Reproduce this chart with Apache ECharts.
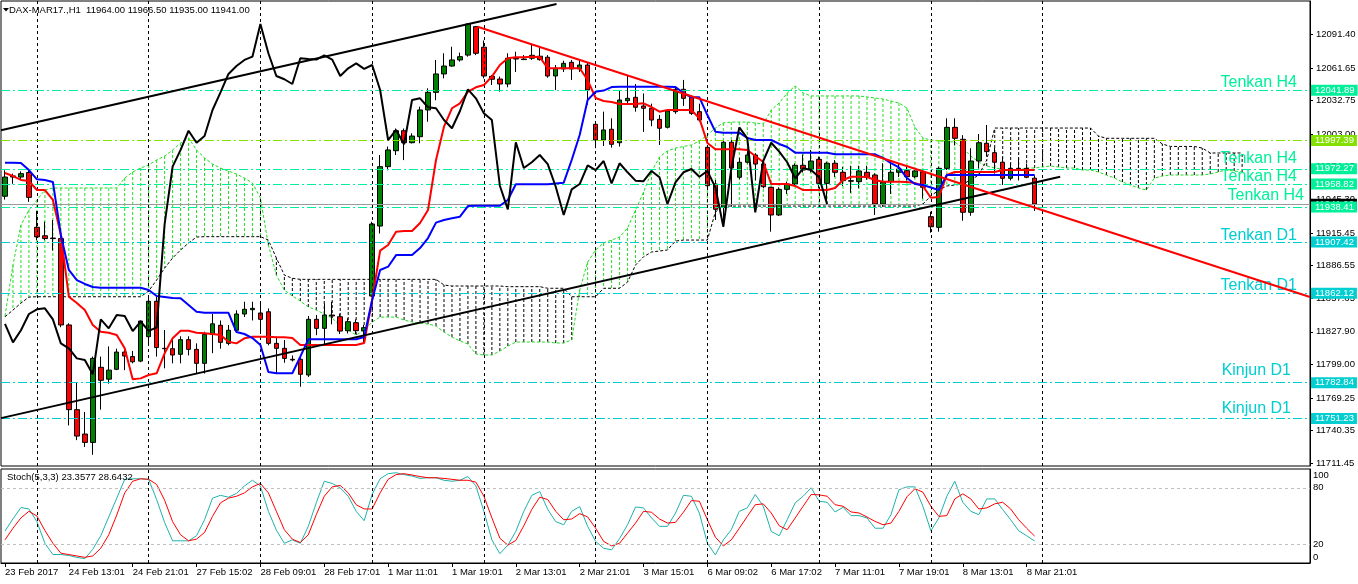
<!DOCTYPE html>
<html><head><meta charset="utf-8">
<script src="https://cdn.jsdelivr.net/npm/echarts@6/dist/echarts.min.js"></script>
<style>html,body{margin:0;padding:0;background:#fff}#c{width:1358px;height:584px}</style>
</head><body><div id="c"></div>
<script>
const symbolName = 'DAX-MAR17.,H1';
const tickLabels = ['23 Feb 2017','24 Feb 13:01','24 Feb 21:01','27 Feb 15:02','28 Feb 09:01','28 Feb 17:01','1 Mar 11:01','1 Mar 19:01','2 Mar 13:01','2 Mar 21:01','3 Mar 15:01','6 Mar 09:02','6 Mar 17:02','7 Mar 11:01','7 Mar 19:01','8 Mar 13:01','8 Mar 21:01'];
const priceTicks = [12091.40,12061.65,12032.75,12003.00,11974.15,11945.30,11915.45,11886.55,11857.65,11827.90,11799.00,11769.25,11740.35,11711.45];
const stochTicks = [100,80,20,0];
const separatorBars = [4,18,32,46,60,74,88,102,116,130];

const opens = [11948,11965,11965,11969,11920.5,11913,11911,11910.5,11834,11759,
11737.4,11730,11796.5,11786,11794.7,11810,11806,11802,11823.6,11855,
11813.3,11813,11808,11821,11812.4,11800,11825.7,11833.7,11817.7,11829.3,
11843.7,11847.5,11844.6,11845.7,11817.7,11813.3,11803.6,11803.6,11789.7,11839,
11831,11842.8,11841.3,11828.9,11836,11828.9,11859.6,11921.6,11974.2,11988.3,
12006,11995.4,12000.7,12024.4,12040,12056.3,12063.3,12068.7,12073,12098.2,
12080,12054.2,12051.8,12047.4,12070.2,12069.5,12070.2,12072,12071.1,12054.5,
12060.8,12066.6,12060.8,12064.2,12011.7,11997.8,12007.3,11995.4,12032.6,12035.6,
12027.9,12025.9,12016.1,12009.1,12022.9,12042.7,12035.6,12022.9,11991.3,11958.8,
11938.2,11995.8,11964.8,11978.1,11984.5,11976.5,11955.9,11931.4,11954.1,11958.8,
11975.4,11971.8,11980.7,11959.4,11977.2,11969.2,11961.8,11960.9,11969.2,11966.8,
11941.1,11960.9,11969.2,11970.6,11965.3,11969.7,11929.9,11920.5,11972.7,12009,
11998.4,11933.8,11979.2,11994.9,11986.6,11978.1,11963.9,11972.7,11972.7,11964];
const highs = [11971,11968,11970,11971,11935,11925.5,11927,11914,11835.5,11783,
11757,11806,11806,11815,11813,11813,11811,11838,11859,11859,
11829.5,11820.7,11824,11824,11817.7,11828,11844,11838,11834,11847,
11854.6,11854.6,11853,11848.7,11823.6,11820.7,11807,11807.4,11842,11842.8,
11853,11854.6,11844,11840,11839,11834,11925.4,11984.5,11992,12008,
12008,12003.7,12027.3,12043.6,12068.7,12074.6,12080.4,12075.2,12101.2,12098.8,
12086,12055.4,12054,12074.6,12076,12073,12082,12080,12073,12064.2,
12068,12068.7,12068.7,12066,12014,12022.9,12017,12042,12055.4,12047.4,
12039,12030,12020,12025,12045.5,12051,12037,12030,11992,11962.4,
11997.8,11997.8,11982,11990,11986,11980,11956.4,11956,11961,11977,
11985,11989,11983,11978.6,11980,11974,11975,11975,11975,11968.3,
11977.2,11977,11977,11974,11971,11971,11934.3,11974.2,12017,12017,
12002.1,11990.5,12003.1,12011.1,11991,11983,11977,11982,11977,11966.5];
const lows = [11945,11959,11963,11943,11909,11909,11900,11832,11745,11732,
11726,11719,11759,11782,11794,11794,11800,11801,11816,11806,
11795.6,11800,11800,11807,11791,11791,11809,11813,11816,11827,
11841,11838,11826.6,11816,11791,11800.5,11801.7,11779.3,11788,11825,
11816,11834.6,11826,11826.5,11826,11818,11859,11915,11971,11984.5,
11980,11994.8,11994.9,12014,12033,12052.4,12062.7,12067.2,12071.6,12073,
12052.4,12046.5,12040.6,12044.5,12058,12068.7,12068.7,12068,12053,12042,
12058,12051,12058,12029,11990.5,11992.5,11991,11992,12030.3,12022.9,
12005,12010,11993.4,12008,12021,12028,12020,12014,11956,11927,
11921,11938.7,11963,11977,11962,11955,11916.6,11930.5,11950,11957,
11969,11969,11955,11940.2,11965,11957,11951,11955,11962.6,11931.4,
11938.7,11950,11965,11962,11964,11946,11915.7,11916.6,11971.2,11993,
11926.3,11930.7,11972.7,11983,11968,11958,11962,11962,11964,11935];
const closes = [11965,11966,11968,11947,11912,11910.5,11910.5,11834,11759,11735.6,
11730,11804.4,11785,11794,11810,11806.5,11801.4,11837.5,11855,11814,
11813,11807.4,11821,11812.4,11800,11825.7,11835,11818.6,11829.3,11843.7,
11847.9,11848.7,11839,11817.7,11813.3,11804.4,11803,11790.3,11839,11831,
11842.8,11842,11828.6,11836.9,11828.9,11831.6,11923.4,11974.2,11989,12006,
11995.4,12001.3,12024.4,12040,12056.3,12063.3,12068.7,12071.6,12100.5,12074.6,
12054.5,12051.6,12047.4,12070.2,12069.5,12069,12072.8,12069,12054.5,12061.3,
12065.7,12060.8,12064.2,12042.1,11997.8,12006.7,11994,12033.2,12034.7,12026.8,
12025.9,12015.5,12008.2,12023.5,12042.7,12034.7,12021.4,12015.5,11957.3,11936.4,
11995.8,11973,11978.1,11984.5,11976.5,11956.4,11931.4,11954.1,11958.8,11975.4,
11971.2,11979.2,11959.4,11977.2,11969.2,11961.8,11961.3,11970.4,11964.8,11941.1,
11960.3,11969.2,11972.1,11965.3,11970.4,11955.9,11921,11972.7,12009,11999.3,
11933.8,11979.2,11995.4,11987.5,11978.1,11963.9,11972.7,11971.2,11964.8,11941];

const tenkan = [11968.6,11965.9,11962.4,11961.5,11953.5,11953.5,11944.7,11913.7,11859,11853.4,
11847.2,11833.9,11828,11827.1,11825.1,11813.3,11785.9,11786.7,11789.7,11791.2,
11808.9,11822.2,11828.9,11828.9,11827.1,11826.6,11826,11825.1,11819.1,11817.7,
11822.2,11823.6,11823.6,11823.6,11823.1,11823.1,11822.4,11816.2,11816.2,11816.2,
11816.2,11816.2,11816.2,11816.2,11816.2,11818,11856.1,11899.8,11904.8,11916.6,
11917.2,11917.2,11924.3,11935.8,11980.1,12009.6,12025.9,12030.3,12040.6,12044.5,
12046.5,12053.9,12064.2,12070.2,12071,12071,12071.6,12071.3,12061.3,12061.3,
12061.3,12061.3,12061.3,12050.9,12035,12032.3,12031.5,12029.7,12029.7,12029.7,
12030.3,12027,12022.9,12024.4,12024.4,12024.4,12024.4,12017,11995.1,11989.6,
11989.6,11989.6,11989.6,11988.9,11983.6,11978.3,11958.8,11958.8,11958.8,11957.1,
11953.5,11953.5,11953.5,11953.5,11955.3,11962.4,11965.3,11965.3,11965,11962.4,
11960.9,11960.9,11960.9,11960.6,11959.7,11957.1,11946.7,11947.3,11966.8,11969.5,
11969.5,11969.5,11969.5,11969.5,11969.5,11971.2,11971.2,11971.2,11971.2,11971.2];
const kijun = [11977.7,11977.7,11977.4,11971.2,11963,11962.4,11960.6,11913.7,11882.7,11873.8,
11870.3,11867.6,11867,11867,11867,11867,11867,11867,11865,11859.6,
11858.8,11857.9,11857.6,11851.7,11845.7,11844.8,11844.8,11844.8,11844.8,11827.7,
11826,11822.4,11816.2,11792.3,11791.2,11791.2,11791.2,11805.9,11821.3,11821.3,
11821.3,11821.3,11821.3,11821.3,11821.3,11823.3,11856.1,11882.7,11885.6,11895.9,
11895.9,11895.9,11902.1,11911,11924.6,11927,11928.5,11929.9,11939.3,11939.6,
11939.6,11939.6,11939.6,11944.7,11958.6,11958.6,11958.6,11958.6,11958.6,11959.3,
11960,11980.1,12002.2,12033.2,12040.6,12041.6,12044.7,12045,12045,12045,
12045,12045,12045,12045,12044.7,12039.4,12035.6,12035.6,12019.9,12005.2,
12004.3,12004.3,12004.3,11999.6,11997.8,11997.8,11997.8,11994.3,11991.6,11986.6,
11986.6,11986.6,11986.6,11986.6,11985.1,11985.1,11985.1,11985.1,11985.1,11985.1,
11981.9,11977.4,11973.6,11964.1,11958.8,11957.9,11955.7,11953.5,11966.8,11966.8,
11966.8,11966.8,11966.8,11966.8,11966.8,11966.8,11966.8,11966.8,11966.8,11966.8];
const spanA = [11841.9,11887.1,11922.5,11935.8,11944.7,11953.5,11955.3,11955.3,11955.3,11955.3,
11955.3,11955.3,11955.3,11955.3,11955.3,11964.1,11969.5,11973,11975.7,11980.1,
11983.6,11988.9,11995.1,11999.6,11988.9,11981.9,11976.5,11973,11970.3,11967.7,
11964.1,11959.7,11946.4,11904.8,11878.2,11864.9,11859.6,11855.2,11849.9,11847.2,
11843.7,11840.1,11833.1,11829.5,11825.1,11829.5,11836.6,11841,11841,11841,
11838.4,11836.6,11835.7,11834.8,11833.1,11827.7,11823.3,11819.8,11817.1,11808.3,
11807.4,11807.4,11810.9,11815.3,11818.9,11818.9,11818.9,11818.9,11818.9,11818,
11818,11820.7,11864.9,11889.7,11900.4,11906.6,11909.2,11911.9,11919.9,11935.8,
11951.7,11969.5,11982.7,11988.1,11990.7,11992,11993.4,11996.9,12002.2,12008.4,
12012.9,12013.7,12013.7,12013.7,12012.9,12012,12024.4,12030.6,12039.4,12045.6,
12039.4,12036.8,12036.8,12036.8,12036.8,12036.8,12036.8,12036.8,12035.9,12035,
12034.1,12032.3,12030.6,12026.1,12009.3,11999.6,11997.8,11996.9,11996.5,11996,
11990.7,11983.6,11978.3,11974.8,11973,11972.1,11971.2,11971.2,11973,11973,
11973.9,11974.8,11973.9,11973,11973,11971.2,11971.2,11969.5,11966.8,11964.1,
11960.6,11957.9,11955.3,11953.5,11964.1,11965.9,11966.8,11966.8,11966.8,11966.8,
11966.8,11967.7,11969.5,11971.2,11970.3,11969.5];
const spanB = [11841.3,11847.2,11853.4,11858.7,11859,11859,11859,11859,11859,11859,
11859,11859,11859,11859,11859,11859,11859,11859,11864.1,11873.8,
11884.4,11893.3,11900.4,11906.6,11911.9,11912.2,11912.2,11912.2,11912.2,11912.2,
11912.2,11912.2,11912.2,11909.2,11893.3,11878.2,11875.3,11874.4,11874.4,11874.4,
11874.4,11874.4,11874.4,11874.4,11874.4,11874.4,11874.4,11874.4,11874.4,11874.4,
11874.4,11874.4,11874.4,11874.4,11874.4,11869.4,11868.5,11868.5,11868.5,11868.5,
11868.5,11868.5,11868.5,11867.9,11867.9,11867.9,11867.9,11867.9,11866.5,11866.5,
11866.5,11859,11859,11859,11859,11866.5,11866.5,11866.5,11872,11887.1,
11894.4,11898.6,11899.5,11900.4,11908.3,11909.2,11909.2,11909.2,11909.2,11934,
11939.3,11939.3,11939.3,11939.3,11939.3,11939.3,11939.3,11939.3,11939.3,11939.3,
11939.3,11939.3,11939.3,11939.3,11939.3,11939.3,11939.3,11939.3,11939.3,11939.3,
11939.3,11939.3,11939.3,11939.3,11939.3,11941.1,11948.2,11953.5,11957.1,11957.9,
11958.8,11962.4,11966.8,11980.1,12008.4,12008.4,12008.4,12008.4,12008.4,12008.4,
12008.4,12008.4,12008.4,12008.4,12008.4,12008.4,12008.4,12001.3,11999.3,11999.3,
11999.3,11999.3,11999.3,11999.3,11999.3,11994.3,11992.1,11992.1,11992.1,11992.1,
11990.7,11986.3,11986.3,11986.3,11986.3,11986.3];
const chikouShift = 26;

const stochK = [34,47,59,57.5,44,21,9,9,8,6,
4.6,14.6,29,49,69,89,89.6,89.6,89,67.5,
43,23.6,23.6,23.6,29,46,69,72,70,74,
82,88,82,55,35,21,24.6,21,39,64,
87,84.6,80,71,55,45,73,89.6,95,96,
94,92.5,90,90.7,90.7,88,87,88,92,82,
55,24.6,10,19,33.6,55,72,76,57,44,
40.7,55,60,39,23,15.7,14,26,40.7,59.6,
58.6,48,39,39,53,72,71,53,21,8.6,
24.6,35.4,55,58.6,72.9,60.4,33.6,29,46,64,
71,80,65.7,64.6,54.3,59.3,50.4,50.4,47.9,37,
37,51.4,78,81,81,60.4,34.3,47.9,71,87,
64.6,55,51.4,68.2,68.2,56.8,46,34.3,29,23.3577];
const stochD = [24.6,37,48,55,50,34.6,21,10.4,9,7.5,
6,7.5,15.7,30,51,74.6,87,89.6,89,83.6,
66.8,44,30,23.6,25.4,32.5,49.6,64,69,71,
74.6,81,84.6,74.6,55,35.4,25.4,21.8,30,51.4,
71,81,82.5,74.6,62,57.5,57.5,74.6,89,94,
95,93.6,92,90.7,90.7,90,89,88,88,86,
71,48,26.4,19,24,39.6,57,70,67.5,55,
46,46.8,52.5,49,37,23,18.2,21,31.8,42.5,
55,54,46.8,42.5,43.2,54,66.4,65.7,46,27.5,
18.2,24.6,37,49.6,62,62.9,53.2,39.6,35.4,47.9,
60.4,72.9,72.5,71,62,60.4,54.3,53.2,48.9,44.3,
40.7,42.5,55,70.4,79,75.4,60.4,49.6,50.4,68.2,
73.6,68.2,57.5,58.6,62.9,64.6,57.5,46,37,28.6432];
const stochLevels = [80,20];

// trend lines: [bar position, price]
const upperChannel = [[-0.5,12006.5],[69.1,12118.2]];
const lowerChannel = [[-0.5,11751.5],[132.2,11965.3]];
const redTrend = [[59.2,12098.1],[163.5,11858.7]];

const levelValues = [12041.89,11997.39,11972.27,11958.82,11938.41,11907.42,11862.12,11782.84,11751.23];
const levelNames = ['Tenkan H4','','Tenkan H4','Tenkan H4','Tenkan H4','Tenkan D1','Tenkan D1','Kinjun D1','Kinjun D1'];

// styles (kept apart from data)
const H4 = '#00F09A', LG = '#84E000', D1 = '#00CED1';
const levelColors = [H4, LG, H4, H4, H4, D1, D1, D1, D1];
const levelLabelOffset = [[13,0],[13,0],[13,2],[13,-1],[6,3],[13,-2],[13,0],[19,4],[19,2]];

const FONT = "'Liberation Sans', Arial, sans-serif";
const SLOTS = 164;
const cats = Array.from({length: SLOTS}, (_, i) => String(i));
const LABEL_EVERY = 8;

const candleData = opens.map((o, i) => [o, closes[i], lows[i], highs[i]]);
const chikou = closes.slice(chikouShift);
const hatch = spanA.map((a, i) => [i, a, spanB[i]]);
const last = candleData.length - 1;
const header = symbolName + '  ' + [opens[last], highs[last], lows[last], closes[last]].map(v => v.toFixed(2)).join(' ');
const stochTitle = 'Stoch(5,3,3) ' + stochK[last].toFixed(4) + ' ' + stochD[last].toFixed(4);

const sepLine = {
  symbol: ['none','none'], silent: true, animation: false,
  label: {show: false},
  lineStyle: {color: '#000', type: [3,3], width: 1},
  data: separatorBars.map(b => ({xAxis: b}))
};

const levelLines = [];
levelLines.push({
  yAxis: closes[last],
  lineStyle: {color: '#9a9a9a', type: 'solid', width: 1},
  label: {show: true, position: 'end', formatter: closes[last].toFixed(2), color: '#fff', backgroundColor: '#000',
    padding: [1,3,0,4], fontSize: 9.5, fontFamily: FONT, distance: 1}
});
levelValues.forEach((v, i) => {
  levelLines.push({
    yAxis: v,
    lineStyle: {color: levelColors[i], type: [9,3,2,3], width: 1},
    label: {show: true, position: 'end', formatter: v.toFixed(2), color: '#fff', backgroundColor: levelColors[i],
      padding: [1,3,0,4], fontSize: 9.5, fontFamily: FONT, distance: 1}
  });
});
const levelTexts = [];
levelValues.forEach((v, i) => {
  if (levelNames[i]) {
    levelTexts.push({
      yAxis: v,
      lineStyle: {color: 'rgba(0,0,0,0)', width: 1},
      label: {show: true, position: 'insideEndTop', formatter: levelNames[i], color: levelColors[i],
        fontSize: 16, fontFamily: FONT, distance: levelLabelOffset[i]}
    });
  }
});

const option = {
  animation: false,
  backgroundColor: '#fff',
  title: [
    {text: header, left: 9, top: 5, padding: 0, textStyle: {fontSize: 9.5, fontWeight: 'normal', color: '#000', fontFamily: FONT}},
    {text: stochTitle, left: 7, top: 472, padding: 0, textStyle: {fontSize: 9.5, fontWeight: 'normal', color: '#000', fontFamily: FONT}}
  ],
  graphic: [{type: 'polygon', shape: {points: [[3,8],[9,8],[6,11.5]]}, style: {fill: '#000'}}],
  grid: [
    {left: 1, right: 48, top: 1, height: 465, containLabel: false, outerBoundsMode: 'none', show: true, borderColor: '#000', borderWidth: 1, backgroundColor: 'transparent'},
    {left: 1, right: 48, top: 469, height: 94, containLabel: false, outerBoundsMode: 'none', show: true, borderColor: '#000', borderWidth: 1, backgroundColor: 'transparent'}
  ],
  xAxis: [
    {type: 'category', gridIndex: 0, data: cats, boundaryGap: true, axisLine: {show: false}, axisTick: {show: false}, axisLabel: {show: false}, splitLine: {show: false}},
    {type: 'category', gridIndex: 1, data: cats, boundaryGap: true,
      axisLine: {show: true, onZero: false, lineStyle: {color: '#000'}},
      axisTick: {show: true, alignWithLabel: true, length: 4, lineStyle: {color: '#000'}, interval: (i) => i % LABEL_EVERY === 0 && i / LABEL_EVERY < tickLabels.length},
      axisLabel: {show: true, interval: (i) => i % LABEL_EVERY === 0 && i / LABEL_EVERY < tickLabels.length,
        formatter: (val, i) => tickLabels[i / LABEL_EVERY] || '', align: 'left', fontSize: 9.5, color: '#000', fontFamily: FONT, margin: 4, hideOverlap: false},
      splitLine: {show: false}},
    {type: 'value', gridIndex: 0, min: -0.5, max: SLOTS - 0.5, show: false,
      axisLine: {show: false, onZero: false}, axisTick: {show: false}, axisLabel: {show: false}, splitLine: {show: false}}
  ],
  yAxis: [
    {type: 'value', gridIndex: 0, position: 'right', min: 11709.1, max: 12120.9,
      axisLine: {show: true, onZero: false, lineStyle: {color: '#000'}},
      axisTick: {show: true, inside: false, customValues: priceTicks, length: 3, lineStyle: {color: '#000'}},
      axisLabel: {customValues: priceTicks, formatter: v => v.toFixed(2), fontSize: 9.5, color: '#000', fontFamily: FONT, margin: 6},
      splitLine: {show: false}},
    {type: 'value', gridIndex: 1, position: 'right', min: 0, max: 100,
      axisLine: {show: true, onZero: false, lineStyle: {color: '#000'}},
      axisTick: {show: false},
      axisLabel: {customValues: stochTicks, margin: 3, fontSize: 9.5, color: '#000', fontFamily: FONT,
        formatter: v => v === 100 ? '{t|100}' : (v === 0 ? '{b|0}' : String(v)),
        rich: {t: {padding: [12,0,0,0], fontSize: 9.5, color: '#000', fontFamily: FONT}, b: {padding: [0,0,12,0], fontSize: 9.5, color: '#000', fontFamily: FONT}}},
      splitLine: {show: false}}
  ],
  series: [
    {name: 'kumo', type: 'custom', xAxisIndex: 0, yAxisIndex: 0, z: 1, clip: true, silent: true,
      data: hatch, encode: {x: 0, y: [1, 2]},
      renderItem: (params, api) => {
        const x = api.value(0), a = api.value(1), b = api.value(2);
        const p1 = api.coord([x, a]), p2 = api.coord([x, b]);
        return {type: 'line', shape: {x1: p1[0], y1: p1[1], x2: p2[0], y2: p2[1]},
          style: {stroke: a >= b ? '#22dd22' : '#000', lineWidth: 1, lineDash: [3,2]}};
      }},
    {name: 'spanA', type: 'line', xAxisIndex: 0, yAxisIndex: 0, data: spanA, symbol: 'none', z: 2, silent: true,
      lineStyle: {color: '#22dd22', width: 1, type: [3,2]}},
    {name: 'spanB', type: 'line', xAxisIndex: 0, yAxisIndex: 0, data: spanB, symbol: 'none', z: 2, silent: true,
      lineStyle: {color: '#000', width: 1, type: [3,2]}, markLine: sepLine},
    {name: 'levels', type: 'line', xAxisIndex: 0, yAxisIndex: 0, data: [], symbol: 'none', z: 3, silent: true,
      markLine: {symbol: ['none','none'], silent: true, animation: false, precision: 2, data: levelLines}},
    {name: 'levelTexts', type: 'line', xAxisIndex: 0, yAxisIndex: 0, data: [], symbol: 'none', z: 3, silent: true,
      markLine: {symbol: ['none','none'], silent: true, animation: false, data: levelTexts}},
    {name: 'candles', type: 'candlestick', xAxisIndex: 0, yAxisIndex: 0, data: candleData, barWidth: 5, z: 4, silent: true,
      itemStyle: {color: '#008000', color0: '#ff0000', borderColor: '#000', borderColor0: '#000', borderWidth: 1}},
    {name: 'tenkan', type: 'line', xAxisIndex: 0, yAxisIndex: 0, data: tenkan, symbol: 'none', z: 5, silent: true,
      lineStyle: {color: '#ff0000', width: 2}},
    {name: 'kijun', type: 'line', xAxisIndex: 0, yAxisIndex: 0, data: kijun, symbol: 'none', z: 5, silent: true,
      lineStyle: {color: '#0000ff', width: 2}},
    {name: 'chikou', type: 'line', xAxisIndex: 0, yAxisIndex: 0, data: chikou, symbol: 'none', z: 5, silent: true,
      lineStyle: {color: '#000', width: 2}},
    {name: 'upper', type: 'line', xAxisIndex: 2, yAxisIndex: 0, data: upperChannel, symbol: 'none', z: 6, clip: true, silent: true,
      lineStyle: {color: '#000', width: 2}},
    {name: 'lower', type: 'line', xAxisIndex: 2, yAxisIndex: 0, data: lowerChannel, symbol: 'none', z: 6, clip: true, silent: true,
      lineStyle: {color: '#000', width: 2}},
    {name: 'redTrend', type: 'line', xAxisIndex: 2, yAxisIndex: 0, data: redTrend, symbol: 'none', z: 6, clip: true, silent: true,
      lineStyle: {color: '#ff0000', width: 2}},
    {name: 'stochK', type: 'line', xAxisIndex: 1, yAxisIndex: 1, data: stochK, symbol: 'none', z: 3, silent: true,
      lineStyle: {color: '#20B2AA', width: 1},
      markLine: {symbol: ['none','none'], silent: true, animation: false, label: {show: false},
        lineStyle: {color: '#c0c0c0', type: [3,3], width: 1}, data: stochLevels.map(v => ({yAxis: v}))}},
    {name: 'stochD', type: 'line', xAxisIndex: 1, yAxisIndex: 1, data: stochD, symbol: 'none', z: 3, silent: true,
      lineStyle: {color: '#ff0000', width: 1}, markLine: sepLine}
  ]
};
const chart = echarts.init(document.getElementById('c'));
chart.setOption(option);
</script></body></html>
